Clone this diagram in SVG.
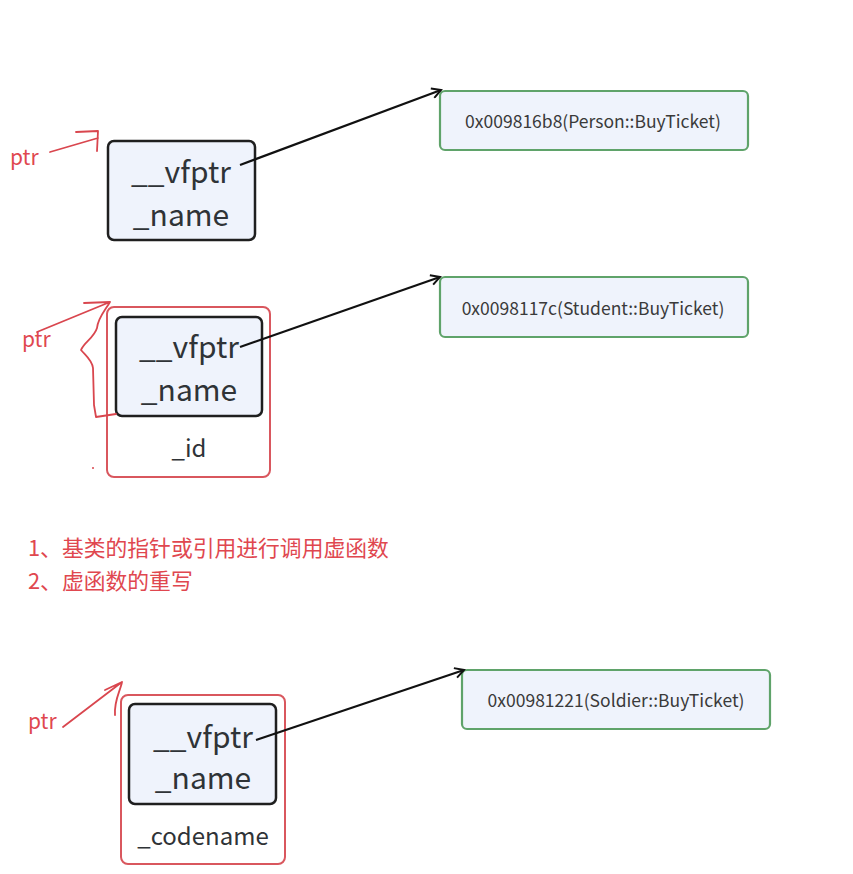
<svg xmlns="http://www.w3.org/2000/svg" width="853" height="874" viewBox="0 0 853 874">
<defs>
<style>
.obj{fill:#eff3fc;stroke:#1f1f1f;stroke-width:2.5}
.outer{fill:#fff;stroke:#d9575e;stroke-width:2}
.addr{fill:#eff3fc;stroke:#5fa36a;stroke-width:2.2}
.big{font-family:"Noto Sans CJK SC","Noto Sans",sans-serif;font-size:30px;fill:#2f3337;text-anchor:middle}
.mid{font-family:"Noto Sans CJK SC","Noto Sans",sans-serif;font-size:24px;fill:#2f3337;text-anchor:middle}
.small{font-family:"Noto Sans CJK SC","Noto Sans",sans-serif;font-size:17.5px;fill:#3a3a3a;text-anchor:middle}
.red{font-family:"Noto Sans CJK SC","Noto Sans",sans-serif;fill:#e0474f}
.ink{fill:none;stroke:#d9464e;stroke-width:1.8;stroke-linecap:round;stroke-linejoin:round}
.conn{fill:none;stroke:#111;stroke-width:2.2}
</style>
<marker id="ah" viewBox="0 0 12 12" refX="10" refY="6" markerWidth="12" markerHeight="12" markerUnits="userSpaceOnUse" orient="auto">
<path d="M1,1 L10,6 L1,11" fill="none" stroke="#111" stroke-width="2"/>
</marker>
</defs>
<rect width="853" height="874" fill="#fff"/>

<g id="person">
<rect class="obj" x="108" y="141" width="147" height="99" rx="6"/>
<text class="big" x="181" y="183">__vfptr</text>
<text class="big" x="181" y="226">_name</text>
</g>
<g id="person-vtbl">
<rect class="addr" x="440" y="91" width="308" height="59" rx="5"/>
<text class="small" x="593" y="128">0x009816b8(Person::BuyTicket)</text>
</g>

<g id="student">
<rect class="outer" x="107" y="307" width="163" height="170" rx="7"/>
<rect class="obj" x="116" y="317" width="146" height="99" rx="6"/>
<text class="big" x="189" y="358">__vfptr</text>
<text class="big" x="189" y="401">_name</text>
<text class="mid" x="189" y="457">_id</text>
</g>
<g id="student-vtbl">
<rect class="addr" x="440" y="277" width="308" height="60" rx="5"/>
<text class="small" x="593" y="315">0x0098117c(Student::BuyTicket)</text>
</g>

<g id="soldier">
<rect class="outer" x="121" y="695" width="164" height="169" rx="7"/>
<rect class="obj" x="129" y="704" width="147" height="100" rx="6"/>
<text class="big" x="203" y="748">__vfptr</text>
<text class="big" x="203" y="789">_name</text>
<text class="mid" x="203" y="845">_codename</text>
</g>
<g id="soldier-vtbl">
<rect class="addr" x="462" y="670" width="308" height="59" rx="5"/>
<text class="small" x="616" y="707">0x00981221(Soldier::BuyTicket)</text>
</g>

<g id="connectors">
<path class="conn" d="M240,165 L441,90" marker-end="url(#ah)"/>
<path class="conn" d="M240,347 L440,277" marker-end="url(#ah)"/>
<path class="conn" d="M256,740 L464,670" marker-end="url(#ah)"/>
</g>

<g id="annotations">
<text class="red" x="10" y="165" font-size="21">ptr</text>
<path class="ink" d="M50,152 L98,138 M76,132 L98,131 L97,151"/>
<text class="red" x="22" y="347" font-size="21">ptr</text>
<path class="ink" d="M37,332 L110,302 M84,303 L110,302 C104,312 98,318 97,328 C94,338 84,342 81,350 C86,356 92,360 93,368 L94,405 L96,417 L116,414"/>
<circle cx="93" cy="468" r="1" fill="#d9464e"/>
<text class="red" x="28" y="729" font-size="21">ptr</text>
<path class="ink" d="M63,727 L122,682 M105,690 L122,682 C120,692 114,700 115,715"/>
<text class="red" x="28" y="556" font-size="21.8">1、基类的指针或引用进行调用虚函数</text>
<text class="red" x="28" y="589" font-size="21.8">2、虚函数的重写</text>
</g>
</svg>
